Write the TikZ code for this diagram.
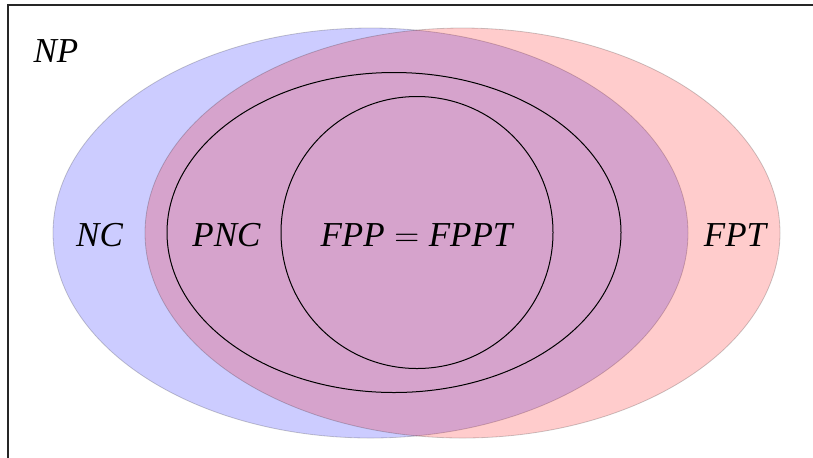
\documentclass[tikz,border=0pt]{standalone}
\usepackage{fontspec}
\setmainfont{Liberation Serif}
\begin{document}
\begin{tikzpicture}[x=0.5pt,y=-0.5pt,
  lbl/.style={font=\fontsize{17.5}{20}\selectfont\itshape, inner sep=0pt},
  setfill/.style={draw=black, opacity=0.2}]
\useasboundingbox (0,0) rectangle (813,457);
\begin{scope}
  \clip (0,0) rectangle (813,457);
  \draw[line width=0.8pt, black!85] (8,5) rectangle (860,500);
\end{scope}
\filldraw[setfill, fill=blue] (370.5,233) ellipse [x radius=158.75pt, y radius=102.5pt];
\filldraw[setfill, fill=red] (462.5,233) ellipse [x radius=158.75pt, y radius=102.5pt];
\draw[line width=0.5pt] (394,232.5) ellipse [x radius=113.5pt, y radius=80pt];
\draw[line width=0.5pt] (417,232.5) circle [radius=68pt];
\node[lbl] (np) at (56,51) {NP};
\node[lbl] (nc) at (99.5,235) {NC};
\node[lbl] (pnc) at (226.5,235) {PNC};
\node[lbl] (fpp) at (416.5,235) {FPP$\;=\;$FPPT};
\node[lbl] (fpt) at (735,235) {FPT};
\end{tikzpicture}
\end{document}
